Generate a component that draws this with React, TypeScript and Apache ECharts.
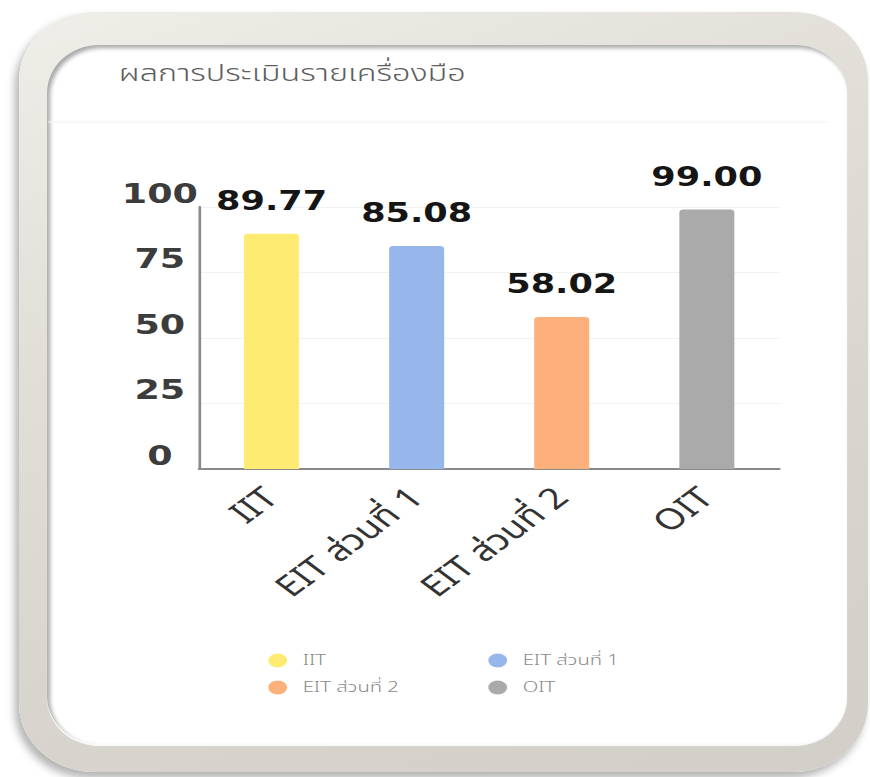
import React, { useEffect, useRef } from "react";
import * as echarts from "echarts";

const titleText = "ผลการประเมินรายเครื่องมือ";
const categories = ["IIT", "EIT ส่วนที่ 1", "EIT ส่วนที่ 2", "OIT"];
const scores = [89.77, 85.08, 58.02, 99.0];
const barColors = ["#feeb72", "#96b6ec", "#fcb07c", "#aaaaaa"];
const yMin = 0;
const yMax = 100;
const yInterval = 25;
const legendLeftCol = ["IIT", "EIT ส่วนที่ 2"];
const legendRightCol = ["EIT ส่วนที่ 1", "OIT"];

const K = 1.35; // horizontal stretch of the picture
const W = 870 / K;

export default function App() {
  const ref = useRef<HTMLDivElement>(null);
  useEffect(() => {
    if (!ref.current) return;
    const chart = echarts.init(ref.current, undefined, { renderer: "svg" });
    const thaiFont = "'Noto Sans Thai', 'Noto Sans', sans-serif";
    const ellipse = "path://M0,50 A50,50 0 1,1 100,50 A50,50 0 1,1 0,50 Z";
    const legendCommon = {
      orient: "vertical" as const,
      top: 648,
      itemWidth: 17,
      itemHeight: 14,
      itemGap: 12,
      icon: ellipse,
      textStyle: { fontSize: 15, color: "#8a8a8a", fontWeight: 300, fontFamily: thaiFont, padding: [0, 0, 0, 5] },
    };
    chart.setOption({
      animation: false,
      backgroundColor: "transparent",
      title: {
        text: titleText,
        left: 83,
        top: 57,
        textStyle: { fontSize: 24, fontWeight: 300, color: "#5e5e5e", fontFamily: thaiFont },
      },
      graphic: [
        {
          type: "line",
          shape: { x1: 48 / K, y1: 122, x2: 830 / K, y2: 122 },
          style: { stroke: "#f3f3f3", lineWidth: 1 },
        },
      ],
      legend: [
        { ...legendCommon, left: 261.5 / K, data: legendLeftCol },
        { ...legendCommon, left: 481.5 / K, data: legendRightCol },
      ],
      grid: { left: 199 / K, right: W - 780 / K, top: 207, bottom: 777 - 469, containLabel: false },
      xAxis: {
        type: "category",
        data: categories,
        axisLine: { lineStyle: { color: "#8a8a8a", width: 2 } },
        axisTick: { show: false },
        axisLabel: {
          rotate: 45,
          margin: 24,
          fontSize: 29,
          color: "#333333",
          fontFamily: thaiFont,
          interval: 0,
        },
      },
      yAxis: {
        type: "value",
        min: yMin,
        max: yMax,
        interval: yInterval,
        axisLine: { show: true, lineStyle: { color: "#8a8a8a", width: 2 } },
        axisTick: { show: false },
        splitLine: { lineStyle: { color: "#f1f1f1", width: 1 } },
        axisLabel: {
          margin: 29,
          align: "center",
          verticalAlign: "bottom",
          fontSize: 27,
          fontWeight: "bold",
          color: "#3c3c3c",
          fontFamily: "'DejaVu Sans', sans-serif",
        },
      },
      series: categories.map((name, i) => ({
        name,
        type: "bar",
        stack: "all",
        barWidth: 55 / K,
        data: scores.map((v, j) => (j === i ? v : "-")),
        itemStyle: { color: barColors[i], borderRadius: [3, 3, 0, 0] },
        label: {
          show: true,
          position: "top",
          distance: 20,
          formatter: (p: any) => Number(p.value).toFixed(2),
          fontSize: 26,
          fontWeight: "bold",
          color: "#151515",
          fontFamily: "'DejaVu Sans', sans-serif",
        },
      })),
    });
    return () => chart.dispose();
  }, []);

  return (
    <div style={{ position: "fixed", left: 0, top: 0, width: 870, height: 777, background: "#ffffff", overflow: "hidden" }}>
      <div
        style={{
          position: "absolute",
          left: 19,
          top: 12,
          width: 849,
          height: 760,
          borderRadius: "75px / 68px",
          background: "linear-gradient(160deg, #efeee8 0%, #e2e0d9 30%, #d7d5cd 65%, #d1cfc7 100%)",
          boxShadow: "-4px 6px 9px rgba(0,0,0,0.3)",
        }}
      />
      <div
        style={{
          position: "absolute",
          left: 47,
          top: 45,
          width: 800,
          height: 699,
          borderRadius: "52px / 48px",
          background: "#ffffff",
          boxShadow: "inset 3px 3px 4px rgba(0,0,0,0.35), 0 2px 1px rgba(255,255,255,0.9)",
        }}
      />
      <div
        ref={ref}
        style={{
          position: "absolute",
          left: 0,
          top: 0,
          width: W,
          height: 777,
          transform: `scaleX(${K})`,
          transformOrigin: "0 0",
        }}
      />
    </div>
  );
}
